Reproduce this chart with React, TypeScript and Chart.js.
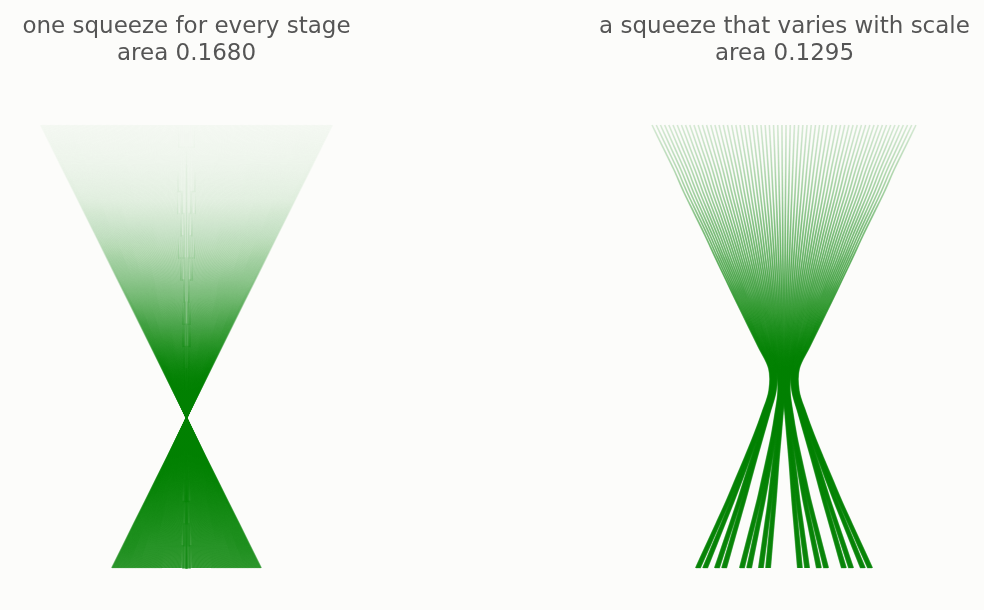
import React, { useEffect, useRef } from 'react';
import { Chart, registerables } from 'chart.js';

Chart.register(...registerables);

// stage heights (0 = bottom stage, 1 = top stage)
const STAGES = [0, 0.05, 0.1, 0.15, 0.2, 0.25, 0.3, 0.35, 0.4, 0.45, 0.5, 0.55, 0.6, 0.65, 0.7, 0.75, 0.8, 0.85, 0.9, 0.95, 1];

// left panel: one squeeze (half-width of the fan, px) per stage
const LEFT_SQUEEZE = [75, 63.9, 52.9, 41.8, 30.7, 19.6, 8.6, -2.5, -13.6, -24.7, -35.8, -46.8, -57.9, -69, -80.1, -91.1, -102.2, -113.3, -124.4, -135.4, -146.5];
// share of the squeeze taken by each binary digit (coarse -> fine)
const LEFT_SHARE = [0.5, 0.25, 0.125, 0.0625, 0.03125, 0.015625, 0.0078125, 0.00390625];

// right panel: a squeeze per digit (scale) per stage, px
const RIGHT_D1 = [51, 45, 39, 33, 27.5, 22, 16.5, 11.5, 7, 7.5, 13, 18.5, 24, 29.4, 34.8, 40, 45.5, 51, 56, 61.5, 67];
const RIGHT_D2 = [22, 19.8, 17.6, 15.4, 13.2, 11, 8.8, 6.6, 4.5, 3.75, 6.5, 9.25, 12, 14.7, 17.4, 20, 22.75, 25.5, 28, 30.75, 33.5];
const RIGHT_D3 = [9.5, 8.2, 6.9, 5.6, 4.4, 3.3, 2.4, 1.8, 1.5, 1.9, 3.25, 4.6, 6, 7.35, 8.7, 10, 11.4, 12.75, 14, 15.4, 16.75];
const RIGHT_D4 = [3.6, 3.1, 2.6, 2.1, 1.7, 1.3, 1.0, 0.85, 0.8, 0.94, 1.6, 2.3, 3, 3.7, 4.3, 5, 5.7, 6.4, 7, 7.7, 8.4];
const RIGHT_D5 = [1.2, 1.1, 1.0, 0.95, 0.9, 0.8, 0.7, 0.6, 0.55, 0.5, 0.8, 1.16, 1.5, 1.84, 2.17, 2.5, 2.84, 3.2, 3.5, 3.84, 4.2];
const RIGHT_D6 = [0.6, 0.55, 0.5, 0.47, 0.45, 0.4, 0.35, 0.3, 0.3, 0.3, 0.4, 0.58, 0.75, 0.92, 1.09, 1.25, 1.42, 1.6, 1.75, 1.92, 2.1];
const RIGHT_D7 = [0.3, 0.3, 0.3, 0.3, 0.3, 0.3, 0.3, 0.28, 0.26, 0.24, 0.22, 0.2, 0.2, 0.2, 0.2, 0.2, 0.2, 0.2, 0.2, 0.2, 0.2];
const RIGHT_D8 = [0.15, 0.15, 0.15, 0.15, 0.15, 0.15, 0.15, 0.14, 0.13, 0.12, 0.11, 0.1, 0.1, 0.1, 0.1, 0.1, 0.1, 0.1, 0.1, 0.1, 0.1];

// line opacity along the height (stage height -> alpha)
const ALPHA_STAGES = [0, 0.34, 0.6, 0.72, 0.83, 0.92, 1];
const LEFT_ALPHA = [0.5, 0.42, 0.22, 0.13, 0.058, 0.035, 0.023];
const RIGHT_ALPHA = [0.5, 0.45, 0.3, 0.2, 0.12, 0.075, 0.045];
const LINE_WIDTH = 1.5;

const TITLE_LEFT = ['one squeeze for every stage', 'area 0.1680'];
const TITLE_RIGHT = ['a squeeze that varies with scale', 'area 0.1295'];

const BG = '#fcfcfa';

function buildLines(digitRows: number[][]) {
  const n = digitRows.length;
  const lines: { x: number; y: number }[][] = [];
  for (let m = 0; m < 1 << n; m++) {
    const pts = STAGES.map((t, k) => {
      let x = 0;
      for (let j = 0; j < n; j++) {
        const b = (m >> (n - 1 - j)) & 1 ? 1 : -1;
        x += b * digitRows[j][k];
      }
      return { x, y: t };
    });
    lines.push(pts);
  }
  return lines;
}

const gradCache = new WeakMap<any, { key: string; g: CanvasGradient }>();
function lineGradient(chart: any, alphas: number[]) {
  const yScale = chart.scales && chart.scales.y;
  const area = chart.chartArea;
  if (!yScale || !area) return 'rgba(0,128,0,0.2)';
  const p0 = yScale.getPixelForValue(0);
  const p1 = yScale.getPixelForValue(1);
  const key = `${p0}|${p1}`;
  const cached = gradCache.get(chart);
  if (cached && cached.key === key) return cached.g;
  const g = chart.ctx.createLinearGradient(0, p0, 0, p1);
  ALPHA_STAGES.forEach((t, i) => g.addColorStop(t, `rgba(0,128,0,${alphas[i]})`));
  gradCache.set(chart, { key, g });
  return g;
}

function makeConfig(lines: { x: number; y: number }[][], title: string[], xmin: number, xmax: number, tension: number, alphas: number[]): any {
  return {
    type: 'line',
    data: {
      datasets: lines.map((pts) => ({
        data: pts,
        borderColor: (ctx: any) => lineGradient(ctx.chart, alphas),
        borderWidth: LINE_WIDTH,
        pointRadius: 0,
        pointHoverRadius: 0,
        fill: false,
        tension,
        borderCapStyle: 'butt',
      })),
    },
    options: {
      animation: false,
      responsive: false,
      indexAxis: 'y',
      events: [],
      layout: { padding: 0 },
      plugins: {
        legend: { display: false },
        tooltip: { enabled: false },
        title: {
          display: true,
          text: title,
          color: '#555555',
          font: { family: "'DejaVu Sans', sans-serif", size: 23, weight: 'normal', lineHeight: 27 / 23 },
          padding: { top: 14, bottom: 12 },
        },
      },
      scales: {
        x: { type: 'linear', min: xmin, max: xmax, display: false },
        y: { type: 'linear', min: -0.09481, max: 1.10158, display: false },
      },
    },
  };
}

export default function App() {
  const leftRef = useRef<HTMLCanvasElement>(null);
  const rightRef = useRef<HTMLCanvasElement>(null);

  useEffect(() => {
    const leftRows = LEFT_SHARE.map((s) => LEFT_SQUEEZE.map((v) => v * s));
    const rightRows = [RIGHT_D1, RIGHT_D2, RIGHT_D3, RIGHT_D4, RIGHT_D5, RIGHT_D6, RIGHT_D7, RIGHT_D8];
    const c1 = new Chart(leftRef.current as HTMLCanvasElement, makeConfig(buildLines(leftRows), TITLE_LEFT, -186.5, 186.5, 0, LEFT_ALPHA));
    const c2 = new Chart(rightRef.current as HTMLCanvasElement, makeConfig(buildLines(rightRows), TITLE_RIGHT, -199, 200, 0.35, RIGHT_ALPHA));
    return () => {
      c1.destroy();
      c2.destroy();
    };
  }, []);

  return (
    <div style={{ position: 'fixed', left: 0, top: 0, width: 984, height: 610, background: BG, overflow: 'hidden' }}>
      <canvas ref={leftRef} width={373} height={610} style={{ position: 'absolute', left: 0, top: 0 }} />
      <canvas ref={rightRef} width={399} height={610} style={{ position: 'absolute', left: 585, top: 0 }} />
    </div>
  );
}
